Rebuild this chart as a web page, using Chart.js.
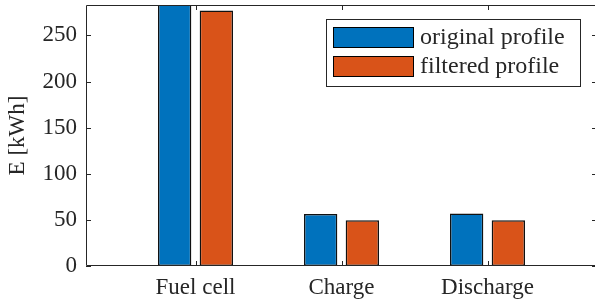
<!DOCTYPE html>
<html>
<head>
<meta charset="utf-8">
<script src="https://cdn.jsdelivr.net/npm/chart.js@4/dist/chart.umd.min.js"></script>
<style>
    html, body { margin: 0; padding: 0; background: #fff; overflow: hidden; }
    #wrap { width: 595px; height: 302px; overflow: hidden; position: relative; }
    #wrap canvas { position: absolute; left: 0; top: 0; }
</style>
</head>
<body>
<div id="wrap"><canvas id="chart" width="600" height="302"></canvas></div>
<script>
const categories = ['Fuel cell', 'Charge', 'Discharge'];
const originalProfile = [296, 56.5, 56.8];
const filteredProfile = [277, 49.6, 49.6];
const seriesLabels = ['original profile', 'filtered profile'];
const yTicks = [0, 50, 100, 150, 200, 250];

const axisColor = '#262626';
const fontFamily = '"Liberation Serif", "DejaVu Serif", serif';
const colors = ['#0072BD', '#D95319'];

function toPoints(values) {
    return values.map((v, i) => ({ x: i + 1, y: v }));
}

// MATLAB style box: inward ticks on all four sides, plus the legend
const matlabBox = {
    id: 'matlabBox',
    afterDraw(chart) {
        const ctx = chart.ctx;
        const area = chart.chartArea;
        const xs = chart.scales.x;
        const ys = chart.scales.y;
        const len = 5;

        ctx.save();
        ctx.strokeStyle = axisColor;
        ctx.lineWidth = 1;
        ctx.beginPath();
        ctx.rect(area.left + 0.5, area.top + 0.5, area.right - area.left - 1, area.bottom - area.top - 1);
        ctx.stroke();

        ctx.beginPath();
        categories.forEach((c, i) => {
            const px = Math.round(xs.getPixelForValue(i + 1)) + 0.5;
            ctx.moveTo(px, area.bottom);
            ctx.lineTo(px, area.bottom - len);
            ctx.moveTo(px, area.top);
            ctx.lineTo(px, area.top + len);
        });
        yTicks.forEach(v => {
            const py = Math.round(ys.getPixelForValue(v)) + 0.5;
            ctx.moveTo(area.left, py);
            ctx.lineTo(area.left + len, py);
            ctx.moveTo(area.right, py);
            ctx.lineTo(area.right - len, py);
        });
        ctx.stroke();

        // legend
        const bx = area.left + 240, by = area.top + 14, bw = 254, bh = 67;
        ctx.fillStyle = '#fff';
        ctx.fillRect(bx, by, bw, bh);
        ctx.strokeRect(bx + 0.5, by + 0.5, bw, bh);
        ctx.font = '24px ' + fontFamily;
        ctx.textBaseline = 'middle';
        ctx.textAlign = 'left';
        chart.data.datasets.forEach((ds, i) => {
            const sy = by + 8 + i * 29;
            ctx.fillStyle = ds.backgroundColor;
            ctx.fillRect(bx + 7, sy, 81, 21);
            ctx.strokeStyle = '#000';
            ctx.strokeRect(bx + 7.5, sy + 0.5, 80, 20);
            ctx.fillStyle = axisColor;
            ctx.fillText(ds.label, bx + 94, sy + 11);
        });
        ctx.restore();
    }
};

new Chart(document.getElementById('chart').getContext('2d'), {
    type: 'bar',
    data: {
        datasets: [
            {
                label: seriesLabels[0],
                data: toPoints(originalProfile),
                backgroundColor: colors[0],
                borderColor: '#111',
                borderWidth: 1.5,
                borderSkipped: false
            },
            {
                label: seriesLabels[1],
                data: toPoints(filteredProfile),
                backgroundColor: colors[1],
                borderColor: '#111',
                borderWidth: 1.5,
                borderSkipped: false
            }
        ]
    },
    options: {
        responsive: false,
        animation: false,
        devicePixelRatio: 1,
        categoryPercentage: 0.571,
        barPercentage: 0.8,
        layout: { padding: { top: 5, right: 3, left: 0, bottom: 0 } },
        plugins: {
            legend: { display: false },
            tooltip: { enabled: false }
        },
        scales: {
            x: {
                type: 'linear',
                min: 0.25,
                max: 3.75,
                offset: false,
                bounds: 'data',
                grid: { display: false, drawTicks: false },
                border: { display: false },
                afterBuildTicks: scale => {
                    scale.ticks = categories.map((c, i) => ({ value: i + 1 }));
                },
                afterFit: scale => {
                    scale.height = 36;
                    scale.paddingLeft = 0;
                    scale.paddingRight = 0;
                },
                ticks: {
                    padding: 8,
                    color: axisColor,
                    font: { family: fontFamily, size: 23 },
                    maxRotation: 0,
                    callback: value => categories[value - 1] || ''
                }
            },
            y: {
                min: 0,
                max: 283,
                grid: { display: false, drawTicks: false },
                border: { display: false },
                afterBuildTicks: scale => {
                    scale.ticks = yTicks.map(v => ({ value: v }));
                },
                afterFit: scale => {
                    scale.width = 86;
                    scale.paddingTop = 0;
                    scale.paddingBottom = 0;
                },
                ticks: {
                    padding: 9,
                    color: axisColor,
                    font: { family: fontFamily, size: 23 }
                },
                title: {
                    display: true,
                    text: 'E [kWh]',
                    color: axisColor,
                    font: { family: fontFamily, size: 23 },
                    padding: { top: 4, bottom: 0 }
                }
            }
        }
    },
    plugins: [matlabBox]
});
</script>
</body>
</html>
